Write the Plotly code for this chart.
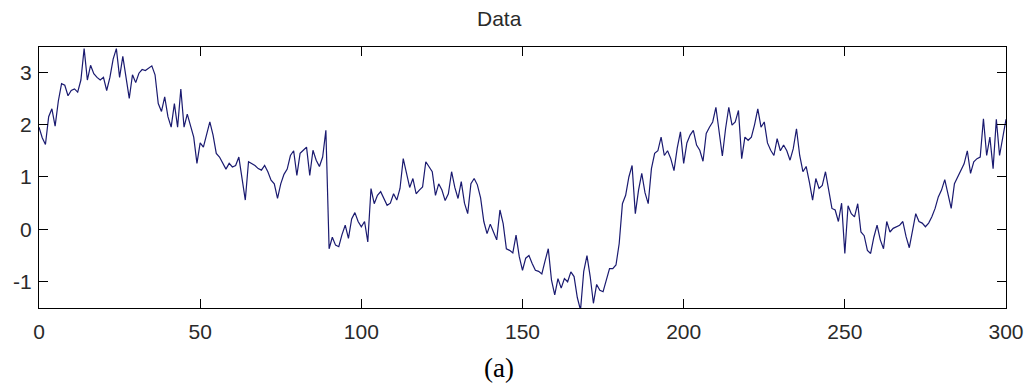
import plotly.graph_objects as go

# sample index 0..300
x_vals = list(range(0, 301))

y_vals = [
    # 0-39
    1.95, 1.75, 1.62, 2.15, 2.3, 1.97, 2.45, 2.78, 2.75, 2.55,
    2.65, 2.68, 2.62, 2.85, 3.45, 2.85, 3.13, 2.97, 2.9, 2.85,
    2.9, 2.65, 2.9, 3.25, 3.45, 2.9, 3.3, 2.9, 2.5, 2.95,
    2.8, 2.98, 3.05, 3.03, 3.08, 3.12, 2.95, 2.4, 2.25, 2.53,
    # 40-79
    2.15, 1.95, 2.4, 1.95, 2.68, 1.95, 2.2, 2.0, 1.76, 1.26,
    1.65, 1.57, 1.83, 2.05, 1.8, 1.45, 1.38, 1.26, 1.15, 1.26,
    1.19, 1.22, 1.38, 0.97, 0.56, 1.29, 1.26, 1.22, 1.16, 1.13,
    1.22, 1.1, 0.94, 0.87, 0.59, 0.87, 1.05, 1.15, 1.41, 1.5,
    # 80-119
    1.03, 1.45, 1.51, 1.57, 1.03, 1.51, 1.32, 1.2, 1.38, 1.89,
    -0.37, -0.15, -0.3, -0.33, -0.1, 0.08, -0.17, 0.2, 0.32, 0.15,
    0.05, 0.15, -0.24, 0.78, 0.49, 0.65, 0.72, 0.59, 0.46, 0.5,
    0.68, 0.56, 0.78, 1.35, 1.1, 0.8, 0.97, 0.68, 0.75, 0.81,
    # 120-159
    1.29, 1.19, 1.1, 0.65, 0.87, 0.75, 0.55, 0.68, 1.1, 0.8,
    0.59, 0.91, 0.5, 0.3, 0.87, 0.97, 0.85, 0.6, 0.15, -0.08,
    0.1, -0.05, -0.2, 0.37, 0.11, -0.37, -0.4, -0.45, -0.11, -0.52,
    -0.78, -0.55, -0.5, -0.65, -0.78, -0.8, -0.85, -0.6, -0.37, -0.97,
    # 160-199
    -1.25, -0.94, -1.12, -0.94, -1.0, -0.81, -0.9, -1.3, -1.54, -0.8,
    -0.5, -0.9, -1.41, -1.05, -1.16, -1.19, -0.95, -0.75, -0.75, -0.68,
    -0.27, 0.49, 0.65, 1.0, 1.22, 0.3, 0.75, 1.07, 0.7, 0.49,
    1.16, 1.45, 1.5, 1.76, 1.41, 1.5, 1.35, 1.12, 1.55, 1.86,
    # 200-239
    1.26, 1.65, 1.8, 1.89, 1.61, 1.51, 1.3, 1.83, 1.95, 2.05,
    2.33, 1.85, 1.4, 1.92, 2.33, 1.99, 2.05, 2.27, 1.35, 1.76,
    1.7, 1.76, 2.0, 2.3, 1.95, 2.05, 1.65, 1.51, 1.41, 1.73,
    1.5, 1.61, 1.5, 1.32, 1.54, 1.92, 1.41, 1.1, 1.2, 0.9,
    # 240-279
    0.56, 0.97, 0.78, 0.84, 1.1, 0.75, 0.4, 0.37, 0.15, 0.5,
    -0.46, 0.45, 0.3, 0.24, 0.49, -0.05, -0.12, -0.4, -0.46, -0.15,
    0.08, -0.2, -0.37, 0.15, -0.05, 0.02, 0.05, 0.08, 0.15, -0.14,
    -0.35, -0.05, 0.3, 0.15, 0.12, 0.05, 0.12, 0.24, 0.4, 0.62,
    # 280-300
    0.75, 0.95, 0.65, 0.4, 0.87, 1.0, 1.1, 1.25, 1.5, 1.07,
    1.29, 1.35, 1.38, 2.11, 1.41, 1.76, 1.16, 2.1, 1.41, 1.75,
    2.1,
]

x_ticks = [0, 50, 100, 150, 200, 250, 300]
y_ticks = [-1, 0, 1, 2, 3]

title_text = "Data"
caption_text = "(a)"

W, H = 1035, 387
ML, MR, MT, MB = 39, 29, 47, 79

fig = go.Figure()
fig.add_trace(go.Scatter(
    x=x_vals, y=y_vals, mode="lines",
    line=dict(color="#1a1a70", width=1.2),
    showlegend=False, hoverinfo="skip",
))

axis_common = dict(
    showline=True, linecolor="black", linewidth=1.3, mirror="ticks",
    ticks="inside", ticklen=9, tickwidth=1.2, tickcolor="black",
    showgrid=False, zeroline=False,
    tickfont=dict(family="Liberation Sans, Arial, sans-serif", size=21, color="#2a2a2a"),
)

fig.update_xaxes(range=[0, 300], tickvals=x_ticks, ticktext=[str(v) for v in x_ticks],
                 ticklabelstandoff=5, **axis_common)
fig.update_yaxes(range=[-1.5, 3.48], tickvals=y_ticks, ticktext=[str(v) for v in y_ticks],
                 ticklabelstandoff=2, **axis_common)

fig.update_layout(
    width=W, height=H,
    margin=dict(l=ML, r=MR, t=MT, b=MB, pad=0),
    paper_bgcolor="white", plot_bgcolor="white",
    annotations=[
        dict(text=title_text, xref="paper", yref="paper", x=0.476, y=1 + (MT - 18.5) / (H - MT - MB),
             showarrow=False, xanchor="center", yanchor="middle",
             font=dict(family="Liberation Sans, Arial, sans-serif", size=21, color="#2a2a2a")),
        dict(text=caption_text, xref="paper", yref="paper", x=0.476, y=-(367.5 - (H - MB)) / (H - MT - MB),
             showarrow=False, xanchor="center", yanchor="middle",
             font=dict(family="Liberation Serif, Times New Roman, serif", size=27, color="black")),
    ],
)

fig.write_html("out.html")
